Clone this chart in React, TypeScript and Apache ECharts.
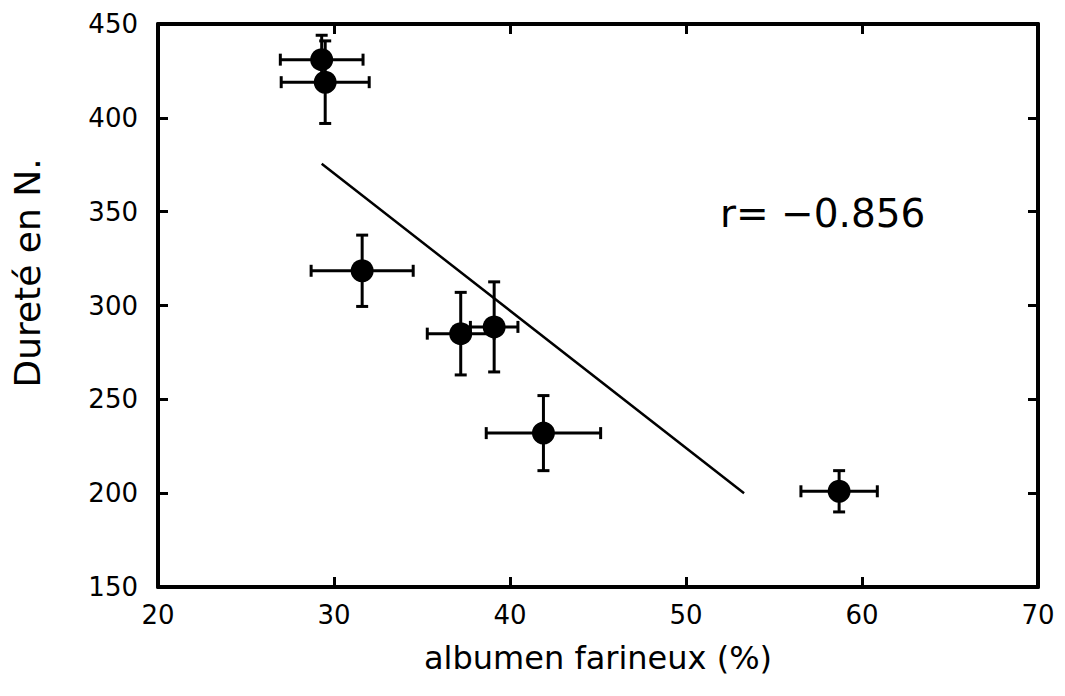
import React, { useEffect, useRef } from "react";
import * as echarts from "echarts";

const albumen = [29.3, 29.5, 31.6, 37.2, 39.1, 41.9, 58.7];
const durete = [431, 419, 318.5, 285, 288.6, 232, 201];
const albumenErr = [2.35, 2.5, 2.9, 1.9, 1.35, 3.25, 2.17];
const dureteErr = [13, 22, 19, 22, 24, 20, 11];
const regressionX = [29.3, 53.3];
const regressionY = [375.5, 200];
const xTicks = { min: 20, max: 70, interval: 10 };
const yTicks = { min: 150, max: 450, interval: 50 };
const corrLabel = "r= \u22120.856";
const xTitle = "albumen farineux (%)";
const yTitle = "Duret\u00e9 en N.";

const FONT = "DejaVu Sans";

export default function App() {
  const ref = useRef<HTMLDivElement>(null);
  useEffect(() => {
    const chart = echarts.init(ref.current!, null, { renderer: "svg" });
    const points = albumen.map((x, i) => [x, durete[i], albumenErr[i], dureteErr[i]]);
    const line = regressionX.map((x, i) => [x, regressionY[i]]);
    const axisLine = { show: true, lineStyle: { color: "#000", width: 4 } };
    const axisTick = { show: true, inside: true, length: 10, lineStyle: { color: "#000", width: 3 } };
    const label = { color: "#000", fontFamily: FONT, fontSize: 26 };
    chart.setOption({
      animation: false,
      backgroundColor: "#fff",
      grid: { left: 158, right: 27, top: 24, bottom: 109 },
      xAxis: [
        {
          type: "value", ...xTicks, position: "bottom",
          axisLine, axisTick, splitLine: { show: false },
          axisLabel: { ...label, margin: 15 },
          name: xTitle, nameLocation: "middle", nameGap: 55,
          nameTextStyle: { color: "#000", fontFamily: FONT, fontSize: 32 },
        },
        {
          type: "value", ...xTicks, position: "top",
          axisLine, axisTick, splitLine: { show: false }, axisLabel: { show: false },
        },
      ],
      yAxis: [
        {
          type: "value", ...yTicks, position: "left",
          axisLine, axisTick, splitLine: { show: false },
          axisLabel: { ...label, margin: 20 },
        },
        {
          type: "value", ...yTicks, position: "right",
          axisLine, axisTick, splitLine: { show: false }, axisLabel: { show: false },
        },
      ],
      graphic: [
        {
          type: "text", x: 720, y: 213,
          style: { text: corrLabel, fill: "#000", font: `39px ${FONT}`, textAlign: "left", textVerticalAlign: "middle" },
        },
        {
          type: "text", x: 27, y: 273, rotation: Math.PI / 2,
          style: { text: yTitle, fill: "#000", font: `36px ${FONT}`, textAlign: "center", textVerticalAlign: "middle" },
        },
      ],
      series: [
        {
          type: "line", data: line, symbol: "none",
          lineStyle: { color: "#000", width: 2.5 }, z: 2,
        },
        {
          type: "custom", data: points, z: 3,
          renderItem: (params: any, api: any) => {
            const x = api.value(0), y = api.value(1), xe = api.value(2), ye = api.value(3);
            const l = api.coord([x - xe, y]);
            const r = api.coord([x + xe, y]);
            const t = api.coord([x, y + ye]);
            const b = api.coord([x, y - ye]);
            const cap = 6;
            const style = { stroke: "#000", lineWidth: 3 };
            return {
              type: "group",
              children: [
                { type: "line", shape: { x1: l[0], y1: l[1], x2: r[0], y2: r[1] }, style },
                { type: "line", shape: { x1: l[0], y1: l[1] - cap, x2: l[0], y2: l[1] + cap }, style },
                { type: "line", shape: { x1: r[0], y1: r[1] - cap, x2: r[0], y2: r[1] + cap }, style },
                { type: "line", shape: { x1: t[0], y1: t[1], x2: b[0], y2: b[1] }, style },
                { type: "line", shape: { x1: t[0] - cap, y1: t[1], x2: t[0] + cap, y2: t[1] }, style },
                { type: "line", shape: { x1: b[0] - cap, y1: b[1], x2: b[0] + cap, y2: b[1] }, style },
              ],
            };
          },
        },
        {
          type: "scatter", data: points.map((p) => [p[0], p[1]]),
          symbol: "circle", symbolSize: 23, z: 4,
          itemStyle: { color: "#000", opacity: 1 },
        },
      ],
    });
    return () => chart.dispose();
  }, []);
  return <div ref={ref} style={{ position: "fixed", left: 0, top: 0, width: 1065, height: 696 }} />;
}
